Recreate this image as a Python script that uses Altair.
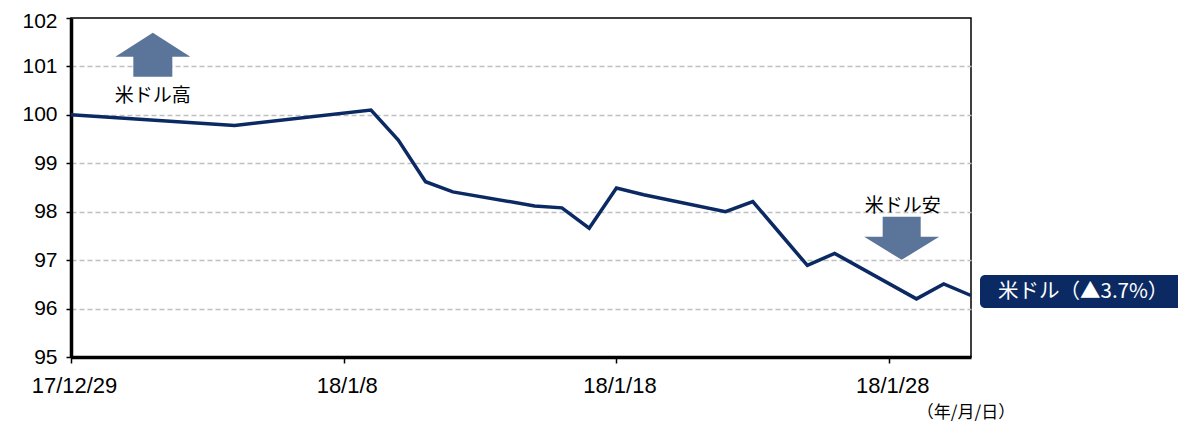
import altair as alt
import pandas as pd

# ---- data ----
dates = ["2017-12-29", "2018-01-04", "2018-01-09", "2018-01-10", "2018-01-11",
         "2018-01-12", "2018-01-15", "2018-01-16", "2018-01-17", "2018-01-18",
         "2018-01-19", "2018-01-22", "2018-01-23", "2018-01-24", "2018-01-25",
         "2018-01-26", "2018-01-29", "2018-01-30", "2018-01-31"]
values = [100.0, 99.78, 100.10, 99.48, 98.62, 98.41, 98.12, 98.08, 97.66, 98.49,
          98.35, 98.00, 98.21, 97.55, 96.89, 97.14, 96.20, 96.51, 96.27]

y_ticks = [95, 96, 97, 98, 99, 100, 101, 102]
x_tick_dates = [(2017, 12, 29), (2018, 1, 8), (2018, 1, 18), (2018, 1, 28)]

series_label = "米ドル（▲3.7%）"
unit_label = "（年/月/日）"
ann_texts = ["米ドル高", "米ドル安"]
ann_text_dates = ["2018-01-01T00:00:00Z", "2018-01-28T12:00:00Z"]
ann_text_values = [100.39, 98.12]
arrow_dates = ["2018-01-01T00:00:00Z", "2018-01-28T11:00:00Z"]
arrow_values = [101.24, 97.45]
arrow_dirs = ["up", "down"]

LINE_COLOR = "#0b2a63"
ARROW_COLOR = "#5a7599"
JP_FONT = "Noto Sans CJK JP"
NUM_FONT = "Liberation Sans"

df = pd.DataFrame({"date": dates, "value": values})
ann_df = pd.DataFrame({"date": ann_text_dates, "value": ann_text_values, "text": ann_texts})
arrow_df = pd.DataFrame({"date": arrow_dates, "value": arrow_values, "dir": arrow_dirs})

x_scale = alt.Scale(type="utc",
                    domain=[alt.DateTime(year=2017, month=12, date=29, utc=True),
                            alt.DateTime(year=2018, month=1, date=31, utc=True)])
y_scale = alt.Scale(domain=[95, 102], nice=False, zero=False)

x_axis = alt.Axis(
    values=[alt.DateTime(year=y, month=m, date=d, utc=True) for (y, m, d) in x_tick_dates],
    labelExpr="utcFormat(datum.value, '%y') + '/' + (utcmonth(datum.value) + 1) + '/' + utcdate(datum.value)",
    title=None, grid=False, domainColor="black", domainWidth=3.5,
    tickColor="black", tickSize=6, tickWidth=1.5, labelPadding=12, labelFlush=False,
    labelFont=NUM_FONT, labelFontSize=22, labelColor="black", labelOffset=3,
)
y_axis = alt.Axis(
    values=y_ticks, title=None, grid=True,
    gridColor="#bfbfbf", gridDash=[5, 3], gridWidth=1.5,
    gridOpacity=alt.condition("datum.value == 95 || datum.value == 102", alt.value(0), alt.value(1)),
    domainColor="black", domainWidth=3.5, labelFlush=False,
    labelOffset=alt.condition("datum.value == 102", alt.value(3), alt.value(0)),
    tickColor="black", tickSize=5, tickWidth=1.5, labelPadding=9,
    labelFont=NUM_FONT, labelFontSize=21, labelColor="black",
)

line = alt.Chart(df).mark_line(color=LINE_COLOR, strokeWidth=3.5).encode(
    x=alt.X("date:T", scale=x_scale, axis=x_axis),
    y=alt.Y("value:Q", scale=y_scale, axis=y_axis),
)

up_path = "M0,-0.587L1,0.053L0.52,0.053L0.52,0.587L-0.52,0.587L-0.52,0.053L-1,0.053Z"
down_path = "M-0.507,-0.573L0.507,-0.573L0.507,-0.04L1,-0.04L0,0.573L-1,-0.04L-0.507,-0.04Z"

arrows = alt.Chart(arrow_df).mark_point(filled=True, opacity=1, strokeWidth=0,
                                        color=ARROW_COLOR, size=5625).encode(
    x=alt.X("date:T", scale=x_scale),
    y=alt.Y("value:Q", scale=y_scale),
    shape=alt.Shape("dir:N", scale=alt.Scale(domain=["up", "down"], range=[up_path, down_path]),
                    legend=None),
)

ann = alt.Chart(ann_df).mark_text(font=JP_FONT, fontSize=19, color="black",
                                  align="center", baseline="middle").encode(
    x=alt.X("date:T", scale=x_scale),
    y=alt.Y("value:Q", scale=y_scale),
    text="text:N",
)

box_df = pd.DataFrame({"label": [series_label]})
box = alt.Chart(box_df).mark_rect(color=LINE_COLOR, cornerRadius=5, clip=False).encode(
    x=alt.value(909), x2=alt.value(1130), y=alt.value(257), y2=alt.value(290),
)
box_text = alt.Chart(box_df).mark_text(font=JP_FONT, fontSize=20.5, color="white",
                                       align="left", baseline="middle", clip=False).encode(
    x=alt.value(927), y=alt.value(274), text="label:N",
)

unit_df = pd.DataFrame({"label": [unit_label]})
unit_text = alt.Chart(unit_df).mark_text(font=JP_FONT, fontSize=17, color="black",
                                         align="center", baseline="middle").encode(
    x=alt.value(895), y=alt.value(395), text="label:N",
)

chart = alt.layer(line, arrows, ann, box, box_text, unit_text).properties(
    width=900, height=339,
    autosize=alt.AutoSizeParams(type="none"),
    padding={"left": 63, "top": 10, "right": 207, "bottom": 66},
).configure_view(stroke="black", strokeWidth=1.5)

chart.save("out.html", embed_options={"renderer": "svg", "actions": False})
